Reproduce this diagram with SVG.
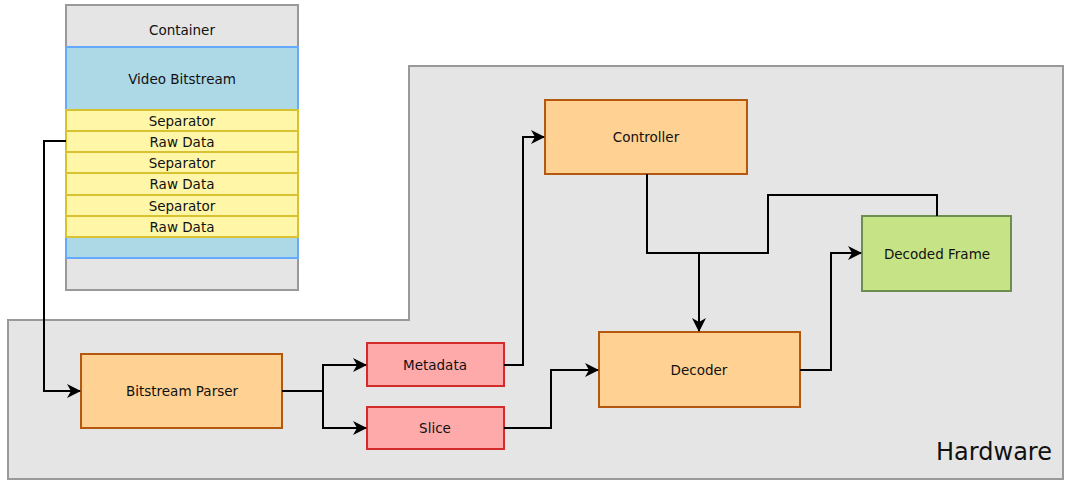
<svg xmlns="http://www.w3.org/2000/svg" width="1065" height="481" viewBox="0 0 1065 481">
<defs>
<style>
text{font-family:"DejaVu Sans",sans-serif;font-size:13.5px;fill:#111;text-anchor:middle;dominant-baseline:central}
.orange{fill:#ffd192;stroke:#b4570f;stroke-width:2}
.red{fill:#ffaaaa;stroke:#d42a2a;stroke-width:2}
.green{fill:#c6e386;stroke:#6e8e50;stroke-width:2}
.yel{fill:#fff6a8;stroke:#d8c232;stroke-width:2}
.conn path{fill:none;stroke:#000;stroke-width:2}
</style>
<marker id="arr" viewBox="0 0 14 14" refX="13" refY="7" markerWidth="14" markerHeight="14" markerUnits="userSpaceOnUse" orient="auto">
<path d="M0,0 L14,7 L0,14 L4,7 Z" fill="#000"/>
</marker>
</defs>
<rect width="1065" height="481" fill="#fff"/>
<g id="hardware">
<path d="M409,66 H1063 V479 H8 V320 H409 Z" fill="#e5e5e5" stroke="#999" stroke-width="2"/>
<text x="994" y="452" style="font-size:24px">Hardware</text>
</g>
<g id="container">
<rect x="66" y="5" width="232" height="285" fill="#e5e5e5" stroke="#999" stroke-width="2"/>
<text x="182" y="30">Container</text>
<rect x="66" y="47" width="232" height="211" fill="#add8e6" stroke="#66aaff" stroke-width="2"/>
<text x="182" y="79">Video Bitstream</text>
</g>
<g id="sep1"><rect class="yel" x="66" y="110" width="232" height="21"/><text x="182" y="121">Separator</text></g>
<g id="raw1"><rect class="yel" x="66" y="131" width="232" height="21"/><text x="182" y="142">Raw Data</text></g>
<g id="sep2"><rect class="yel" x="66" y="152" width="232" height="21"/><text x="182" y="163">Separator</text></g>
<g id="raw2"><rect class="yel" x="66" y="173" width="232" height="22"/><text x="182" y="184">Raw Data</text></g>
<g id="sep3"><rect class="yel" x="66" y="195" width="232" height="21"/><text x="182" y="206">Separator</text></g>
<g id="raw3"><rect class="yel" x="66" y="216" width="232" height="21"/><text x="182" y="227">Raw Data</text></g>
<g id="parser"><rect class="orange" x="81" y="354" width="201" height="74"/><text x="182" y="391">Bitstream Parser</text></g>
<g id="metadata"><rect class="red" x="367" y="343" width="137" height="43"/><text x="435" y="365">Metadata</text></g>
<g id="slice"><rect class="red" x="367" y="407" width="137" height="42"/><text x="435" y="428">Slice</text></g>
<g id="controller"><rect class="orange" x="545" y="100" width="202" height="74"/><text x="646" y="137">Controller</text></g>
<g id="decoder"><rect class="orange" x="599" y="332" width="201" height="75"/><text x="699" y="370">Decoder</text></g>
<g id="frame"><rect class="green" x="862" y="216" width="149" height="75"/><text x="937" y="254">Decoded Frame</text></g>
<g class="conn">
<path d="M66,141 H44 V391 H80" marker-end="url(#arr)"/>
<path d="M282,391 H323 V365 H366" marker-end="url(#arr)"/>
<path d="M323,391 V428 H366" marker-end="url(#arr)"/>
<path d="M504,365 H523 V137 H544" marker-end="url(#arr)"/>
<path d="M504,428 H551 V370 H598" marker-end="url(#arr)"/>
<path d="M647,174 V253 H699 V331" marker-end="url(#arr)"/>
<path d="M937,216 V195 H768 V253 H699"/>
<path d="M800,370 H831 V253 H861" marker-end="url(#arr)"/>
</g>
</svg>
